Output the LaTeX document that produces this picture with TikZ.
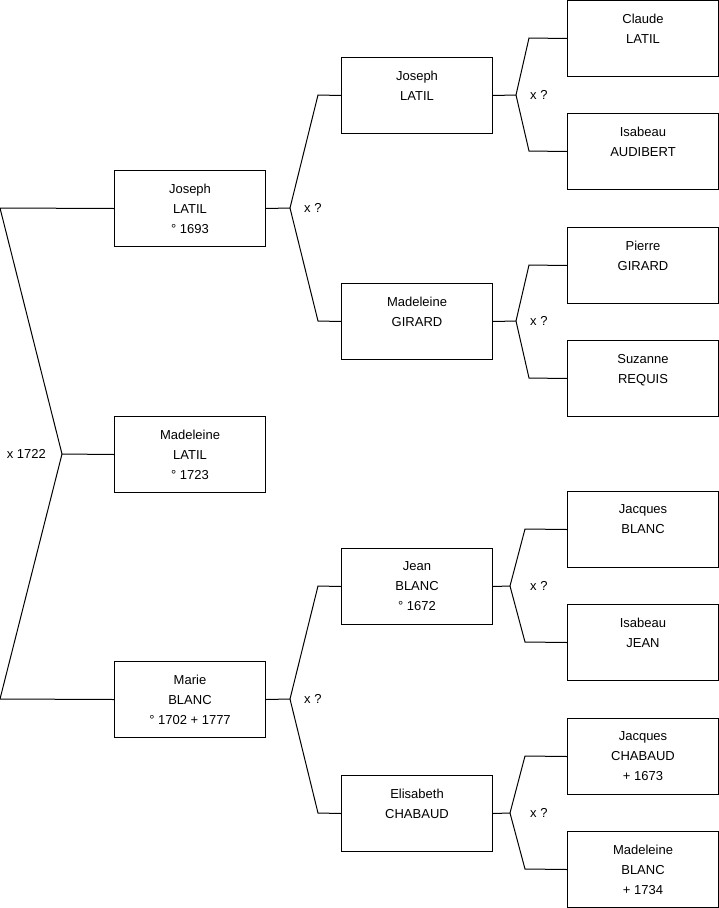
\documentclass[tikz,border=0pt]{standalone}
\usepackage{fontspec}
\setmainfont{Liberation Sans}
\usetikzlibrary{positioning}
\tikzset{
  box/.style={draw, line width=1pt, anchor=north west, minimum width=151pt, minimum height=76pt,
    align=center, inner sep=0pt, font=\fontsize{13}{20}\selectfont},
  mariage/.style={inner sep=0pt, font=\fontsize{13}{14}\selectfont},
  lien/.style={line width=1pt}
}
\begin{document}
\begin{tikzpicture}[x=1pt,y=-1pt]
\useasboundingbox (0,0) rectangle (719,908);
%people
\node[box](jl1) at (114,170){Joseph\\LATIL\\° 1693};
\node[box](ml1) at (114,416){Madeleine\\LATIL\\° 1723};
\node[box](mb1) at (114,661){Marie\\BLANC\\° 1702 + 1777};
\node[box](jl2) at (341,57){Joseph\\LATIL\\~};
\node[box](mg2) at (341,283){Madeleine\\GIRARD\\~};
\node[box](jb2) at (341,548){Jean\\BLANC\\° 1672};
\node[box](ec2) at (341,775){Elisabeth\\CHABAUD\\~};
\node[box](cl3) at (567,0){Claude\\LATIL\\~};
\node[box](ia3) at (567,113){Isabeau\\AUDIBERT\\~};
\node[box](pg3) at (567,227){Pierre\\GIRARD\\~};
\node[box](sr3) at (567,340){Suzanne\\REQUIS\\~};
\node[box](jb3) at (567,491){Jacques\\BLANC\\~};
\node[box](ij3) at (567,604){Isabeau\\JEAN\\~};
\node[box](jc3) at (567,718){Jacques\\CHABAUD\\+ 1673};
\node[box](mb3) at (567,831){Madeleine\\BLANC\\+ 1734};
%couple 1722
\coordinate(u0) at (62,454);
\coordinate(u0a) at (0,208);
\coordinate(u0b) at (0,699);
\draw[lien](jl1.west)--(u0a)--(u0)--(ml1.west);
\draw[lien](u0)--(u0b)--(mb1.west);
\node[mariage,left=16pt of u0](w0){x 1722};
%parents of Joseph
\coordinate(u1) at (290,208);
\coordinate(u1a) at (318,95);
\coordinate(u1b) at (318,321);
\draw[lien](jl1.east)--(u1)--(u1a)--(jl2.west);
\draw[lien](u1)--(u1b)--(mg2.west);
\node[mariage,right=14pt of u1](w1){x ?};
%parents of Marie
\coordinate(u2) at (290,699);
\coordinate(u2a) at (318,586);
\coordinate(u2b) at (318,813);
\draw[lien](mb1.east)--(u2)--(u2a)--(jb2.west);
\draw[lien](u2)--(u2b)--(ec2.west);
\node[mariage,right=14pt of u2](w2){x ?};
%grandparents
\coordinate(u3) at (516,95);
\draw[lien](jl2.east)--(u3)--(529,38)--(cl3.west);
\draw[lien](u3)--(529,151)--(ia3.west);
\node[mariage,right=14pt of u3](w3){x ?};
\coordinate(u4) at (516,321);
\draw[lien](mg2.east)--(u4)--(529,265)--(pg3.west);
\draw[lien](u4)--(529,378)--(sr3.west);
\node[mariage,right=14pt of u4](w4){x ?};
\coordinate(u5) at (510,586);
\draw[lien](jb2.east)--(u5)--(525,529)--(jb3.west);
\draw[lien](u5)--(525,642)--(ij3.west);
\node[mariage,right=20pt of u5](w5){x ?};
\coordinate(u6) at (510,813);
\draw[lien](ec2.east)--(u6)--(525,756)--(jc3.west);
\draw[lien](u6)--(525,869)--(mb3.west);
\node[mariage,right=20pt of u6](w6){x ?};
\end{tikzpicture}
\end{document}
